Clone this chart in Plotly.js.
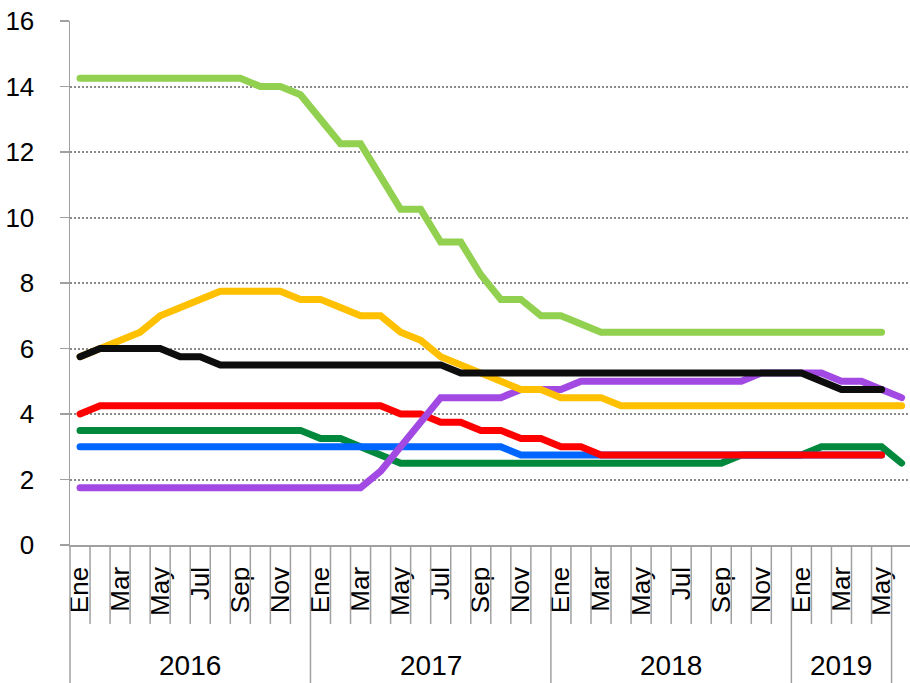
<!DOCTYPE html>
<html>
<head>
<meta charset="utf-8">
<script src="https://cdn.plot.ly/plotly-3.0.1.min.js"></script>
<style>
html, body { margin: 0; padding: 0; background: #ffffff; }
#chart { width: 910px; height: 683px; }
.scatterlayer path.js-line { stroke-linecap: round; }
</style>
</head>
<body>
<div id="chart"></div>
<script>
// ---- categories / tick labels ----
const years = ['2016', '2017', '2018', '2019'];
const monthsPerYear = [12, 12, 12, 5];           // labelled months in each year group
const monthNames = ['Ene','Feb','Mar','Abr','May','Jun','Jul','Ago','Sep','Oct','Nov','Dic'];
const shownMonths = ['Ene','Mar','May','Jul','Sep','Nov'];
const trailingPeriods = ['2019-Jun'];             // one unlabelled period at the end

// ---- series values (monthly, Ene 2016 .. Jun 2019) ----
const lightGreen = [14.25,14.25,14.25,14.25,14.25,14.25,14.25,14.25,14.25,14.0,14.0,13.75,
                    13.0,12.25,12.25,11.25,10.25,10.25,9.25,9.25,8.25,7.5,7.5,7.0,
                    7.0,6.75,6.5,6.5,6.5,6.5,6.5,6.5,6.5,6.5,6.5,6.5,
                    6.5,6.5,6.5,6.5,6.5,null];
const yellow     = [5.75,6.0,6.25,6.5,7.0,7.25,7.5,7.75,7.75,7.75,7.75,7.5,
                    7.5,7.25,7.0,7.0,6.5,6.25,5.75,5.5,5.25,5.0,4.75,4.75,
                    4.5,4.5,4.5,4.25,4.25,4.25,4.25,4.25,4.25,4.25,4.25,4.25,
                    4.25,4.25,4.25,4.25,4.25,4.25];
const black      = [5.75,6.0,6.0,6.0,6.0,5.75,5.75,5.5,5.5,5.5,5.5,5.5,
                    5.5,5.5,5.5,5.5,5.5,5.5,5.5,5.25,5.25,5.25,5.25,5.25,
                    5.25,5.25,5.25,5.25,5.25,5.25,5.25,5.25,5.25,5.25,5.25,5.25,
                    5.25,5.0,4.75,4.75,4.75,null];
const purple     = [1.75,1.75,1.75,1.75,1.75,1.75,1.75,1.75,1.75,1.75,1.75,1.75,
                    1.75,1.75,1.75,2.25,3.0,3.75,4.5,4.5,4.5,4.5,4.75,4.75,
                    4.75,5.0,5.0,5.0,5.0,5.0,5.0,5.0,5.0,5.0,5.25,5.25,
                    5.25,5.25,5.0,5.0,4.75,4.5];
const red        = [4.0,4.25,4.25,4.25,4.25,4.25,4.25,4.25,4.25,4.25,4.25,4.25,
                    4.25,4.25,4.25,4.25,4.0,4.0,3.75,3.75,3.5,3.5,3.25,3.25,
                    3.0,3.0,2.75,2.75,2.75,2.75,2.75,2.75,2.75,2.75,2.75,2.75,
                    2.75,2.75,2.75,2.75,2.75,null];
const blue       = [3.0,3.0,3.0,3.0,3.0,3.0,3.0,3.0,3.0,3.0,3.0,3.0,
                    3.0,3.0,3.0,3.0,3.0,3.0,3.0,3.0,3.0,3.0,2.75,2.75,
                    2.75,2.75,2.75,2.75,2.75,2.75,2.75,2.75,2.75,2.75,2.75,2.75,
                    2.75,2.75,2.75,2.75,2.75,null];
const darkGreen  = [3.5,3.5,3.5,3.5,3.5,3.5,3.5,3.5,3.5,3.5,3.5,3.5,
                    3.25,3.25,3.0,2.75,2.5,2.5,2.5,2.5,2.5,2.5,2.5,2.5,
                    2.5,2.5,2.5,2.5,2.5,2.5,2.5,2.5,2.5,2.75,2.75,2.75,
                    2.75,3.0,3.0,3.0,3.0,2.5];

// ---- build category keys and tick labels ----
const periods = [];
const tickVals = [];
const tickText = [];
years.forEach((yr, yi) => {
  for (let m = 0; m < monthsPerYear[yi]; m++) {
    const key = yr + '-' + monthNames[m];
    periods.push(key);
    if (shownMonths.indexOf(monthNames[m]) >= 0) { tickVals.push(key); tickText.push(monthNames[m]); }
  }
});
trailingPeriods.forEach(p => periods.push(p));

const seriesList = [
  { name: 'Serie verde oscuro', y: darkGreen,  color: '#00893D' },
  { name: 'Serie azul',         y: blue,       color: '#0066FF' },
  { name: 'Serie roja',         y: red,        color: '#FF0000' },
  { name: 'Serie morada',       y: purple,     color: '#A349E3' },
  { name: 'Serie amarilla',     y: yellow,     color: '#FFC000' },
  { name: 'Serie negra',        y: black,      color: '#0D0D0D' },
  { name: 'Serie verde claro',  y: lightGreen, color: '#92D050' }
];

const traces = seriesList.map(s => ({
  type: 'scatter', mode: 'lines', name: s.name,
  x: periods, y: s.y,
  line: { color: s.color, width: 7 },
  connectgaps: false, hoverinfo: 'x+y+name'
}));

// ---- layout geometry ----
const W = 910, H = 683;
const margin = { l: 70, r: 0, t: 21, b: 138, pad: 0 };
const plotH = H - margin.t - margin.b;
const xRange = [-0.5, 41.42];
const toPaperX = v => (v - xRange[0]) / (xRange[1] - xRange[0]);
const axisGray = '#A0A0A0';
const fontFam = 'Liberation Sans, Arial, sans-serif';

// category separators and year dividers
const shapes = [];
const yearBounds = [0];
monthsPerYear.forEach(n => yearBounds.push(yearBounds[yearBounds.length - 1] + n));
for (let k = 0; k <= periods.length; k++) {
  const b = k - 0.5;
  if (b > xRange[1]) continue;
  const isYear = yearBounds.indexOf(k) >= 0;
  shapes.push({
    type: 'line', xref: 'paper', yref: 'paper',
    x0: toPaperX(b), x1: toPaperX(b),
    y0: 0, y1: isYear ? -(margin.b) / plotH : -79 / plotH,
    line: { color: axisGray, width: 1.5 }
  });
}

// year labels
const annotations = years.map((yr, yi) => ({
  text: yr, showarrow: false,
  xref: 'paper', yref: 'paper',
  x: toPaperX((yearBounds[yi] + yearBounds[yi + 1] - 1) / 2),
  y: -120 / plotH, xanchor: 'center', yanchor: 'middle',
  font: { family: fontFam, size: 28, color: '#000000' }
}));

const layout = {
  width: W, height: H, margin: margin,
  paper_bgcolor: '#ffffff', plot_bgcolor: '#ffffff',
  showlegend: false,
  font: { family: fontFam, color: '#000000' },
  xaxis: {
    type: 'category', categoryorder: 'array', categoryarray: periods,
    range: xRange, fixedrange: true,
    showline: true, linecolor: axisGray, linewidth: 1.5,
    showgrid: false, zeroline: false, ticks: '',
    tickmode: 'array', tickvals: tickVals, ticktext: tickText,
    tickangle: -90, ticklabelstandoff: 10,
    tickfont: { family: fontFam, size: 26, color: '#000000' }
  },
  yaxis: {
    range: [0, 16], dtick: 2, tick0: 0, fixedrange: true,
    showline: true, linecolor: axisGray, linewidth: 1.5,
    ticks: 'outside', ticklen: 9, tickwidth: 1.5, tickcolor: axisGray,
    showgrid: true, gridcolor: '#8A8A8A', gridwidth: 2, griddash: '2px,2px',
    zeroline: false, ticklabelstandoff: 20,
    tickfont: { family: fontFam, size: 26, color: '#000000' }
  },
  shapes: shapes,
  annotations: annotations
};

Plotly.newPlot('chart', traces, layout, { staticPlot: true, displayModeBar: false });
</script>
</body>
</html>
